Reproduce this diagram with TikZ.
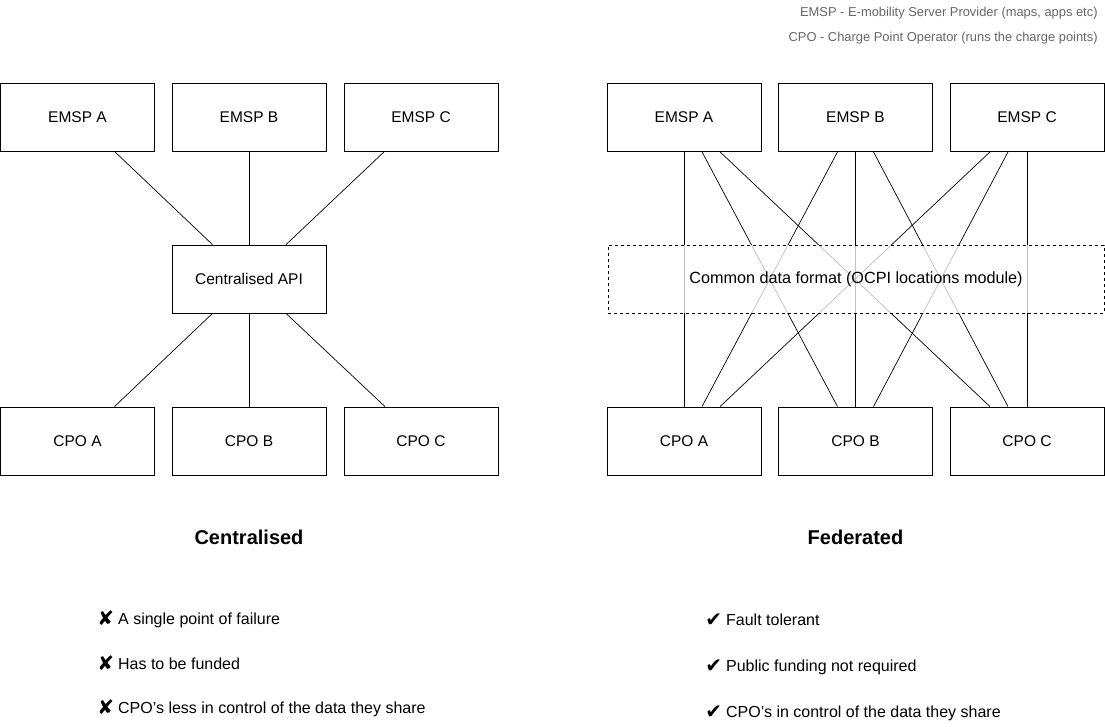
\documentclass[tikz,border=0pt]{standalone}
\usepackage{fontspec}
\setmainfont{Liberation Sans}
\newfontfamily\symfont{DejaVu Sans}
\newcommand{\cross}{\raisebox{-1.5pt}{\symfont\fontsize{20}{20}\selectfont ✘}\hspace{4pt}}
\newcommand{\tick}{\raisebox{-1.5pt}{\symfont\fontsize{20}{20}\selectfont ✔}\hspace{4pt}}
\usetikzlibrary{positioning}

\begin{document}
\begin{tikzpicture}[x=1pt,y=-1pt,line width=0.8pt,
  box/.style={draw=black, fill=white, minimum width=154pt, minimum height=68pt, font=\fontsize{15.5}{18}\selectfont},
  link/.style={draw=black, line width=0.7pt},
  heading/.style={font=\fontsize{20}{24}\selectfont\bfseries},
  item/.style={anchor=base west, inner sep=0pt, font=\fontsize{16}{19}\selectfont},
  note/.style={anchor=east, inner sep=0pt, text=black!60, font=\fontsize{12.9}{15}\selectfont}]
\useasboundingbox (0,0) rectangle (1105,727);

\node[note] (n1) at (1098,13) {EMSP - E-mobility Server Provider (maps, apps etc)};
\node[note] (n2) at (1098,38) {CPO - Charge Point Operator (runs the charge points)};

\node[box] (ea) at (77.5,117.5) {EMSP A};
\node[box] (eb) at (249,117.5) {EMSP B};
\node[box] (ec) at (421,117.5) {EMSP C};
\node[box] (api) at (249,279) {Centralised API};
\node[box] (ca) at (77.5,441) {CPO A};
\node[box] (cb) at (249,441) {CPO B};
\node[box] (cc) at (421,441) {CPO C};

\draw[link] ([xshift=37.5pt]ea.south) -- ([xshift=-36.5pt]api.north);
\draw[link] (eb.south) -- (api.north);
\draw[link] ([xshift=-37pt]ec.south) -- ([xshift=37pt]api.north);
\draw[link] ([xshift=-36.5pt]api.south) -- ([xshift=37pt]ca.north);
\draw[link] (api.south) -- (cb.north);
\draw[link] ([xshift=37pt]api.south) -- ([xshift=-36pt]cc.north);

\node[box] (fa) at (684,117.5) {EMSP A};
\node[box] (fb) at (855.5,117.5) {EMSP B};
\node[box] (fc) at (1027,117.5) {EMSP C};
\node[box] (ga) at (684,441) {CPO A};
\node[box] (gb) at (855.5,441) {CPO B};
\node[box] (gc) at (1027,441) {CPO C};

\draw[link] (fa.south) -- (ga.north);
\draw[link] ([xshift=18pt]fa.south) -- ([xshift=-18pt]gb.north);
\draw[link] ([xshift=36pt]fa.south) -- ([xshift=-37pt]gc.north);
\draw[link] ([xshift=-18pt]fb.south) -- ([xshift=18pt]ga.north);
\draw[link] (fb.south) -- (gb.north);
\draw[link] ([xshift=18pt]fb.south) -- ([xshift=-19pt]gc.north);
\draw[link] ([xshift=-37pt]fc.south) -- ([xshift=36pt]ga.north);
\draw[link] ([xshift=-19pt]fc.south) -- ([xshift=18pt]gb.north);
\draw[link] (fc.south) -- (gc.north);

\node[box, draw=black, dashed, fill=white, fill opacity=0.75, text opacity=1, minimum width=496pt, font=\fontsize{16.2}{19}\selectfont] (common) at (856,279) {Common data format (OCPI locations module)};

\node[heading] (h1) at (249,537) {Centralised};
\node[heading] (h2) at (855.5,537) {Federated};

\node[item] (c1) at (97,624) {\cross A single point of failure};
\node[item] (c2) at (97,669) {\cross Has to be funded};
\node[item] (c3) at (97,713) {\cross CPO’s less in control of the data they share};
\node[item] (f1) at (705,625) {\tick Fault tolerant};
\node[item] (f2) at (705,671) {\tick Public funding not required};
\node[item] (f3) at (705,717) {\tick CPO’s in control of the data they share};
\end{tikzpicture}
\end{document}
